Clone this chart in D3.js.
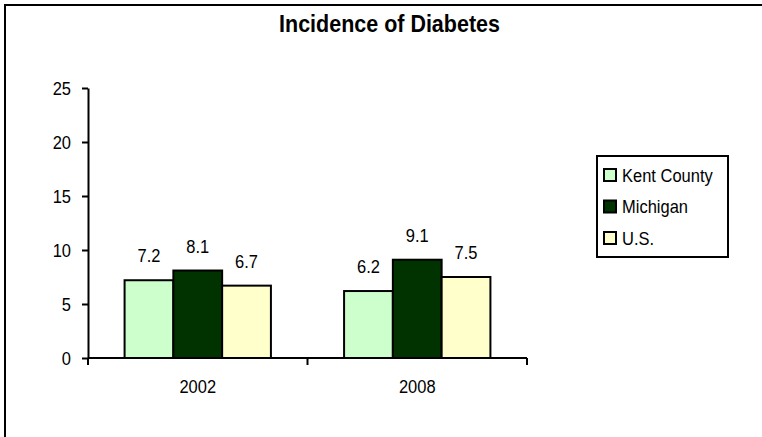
<!DOCTYPE html>
<html>
<head>
<meta charset="utf-8">
<script src="https://cdn.jsdelivr.net/npm/d3@7"></script>
<style>
  html, body { margin: 0; padding: 0; background: #fff; }
  svg { display: block; font-family: Arial, "Liberation Sans", sans-serif; }
</style>
</head>
<body>
<svg id="chart" width="762" height="437"></svg>
<script>
// Chart data
const title = "Incidence of Diabetes";
const years = ["2002", "2008"];
const seriesNames = ["Kent County", "Michigan", "U.S."];
const kentCounty = [7.2, 6.2];
const michigan = [8.1, 9.1];
const us = [6.7, 7.5];
const seriesColors = ["#CCFFCC", "#003300", "#FFFFCC"];
const yTicks = [0, 5, 10, 15, 20, 25];

const seriesValues = [kentCounty, michigan, us];

// Text is drawn slightly taller than wide
const STRETCH = 1.12;
const FONT = 16.5;
const place = (x, y) => `translate(${x},${y}) scale(1,${STRETCH})`;

const svg = d3.select("#chart");

// Outer chart frame (right and bottom edges fall outside the view)
svg.append("rect")
  .attr("x", 5).attr("y", 5)
  .attr("width", 900).attr("height", 600)
  .attr("fill", "#fff")
  .attr("stroke", "#000").attr("stroke-width", 2);

// Title
svg.append("text")
  .attr("transform", place(389.5, 31.5))
  .attr("text-anchor", "middle")
  .attr("font-size", 21.5).attr("font-weight", "bold")
  .text(title);

// Scales
const plot = { left: 88, right: 527, top: 88, bottom: 358 };
const y = d3.scaleLinear().domain([0, 25]).range([plot.bottom, plot.top]);
const x = d3.scaleBand().domain(years).range([plot.left, plot.right]).padding(0);
const bw = x.bandwidth();
const barW = bw / 4.5;               // three bars plus a 150% gap
const x1 = d3.scaleBand().domain(seriesNames)
  .range([barW * 0.75, barW * 0.75 + barW * 3]).padding(0);

// Bars
const groups = svg.append("g").selectAll("g")
  .data(years)
  .join("g")
  .attr("transform", d => `translate(${x(d)},0)`);

const cells = (d, i) => seriesNames.map((s, j) => ({ s, j, v: seriesValues[j][i] }));

groups.selectAll("rect")
  .data(cells)
  .join("rect")
  .attr("x", d => x1(d.s))
  .attr("y", d => y(d.v))
  .attr("width", x1.bandwidth())
  .attr("height", d => y(0) - y(d.v))
  .attr("fill", d => seriesColors[d.j])
  .attr("stroke", "#000").attr("stroke-width", 2);

// Value labels
groups.selectAll("text")
  .data(cells)
  .join("text")
  .attr("transform", d => place(x1(d.s) + x1.bandwidth() / 2, y(d.v) - 18))
  .attr("text-anchor", "middle")
  .attr("font-size", FONT)
  .text(d => d3.format(".1f")(d.v));

// Y axis
const yAxis = d3.axisLeft(y).tickValues(yTicks).tickSize(6).tickSizeOuter(0).tickPadding(11);
const yg = svg.append("g")
  .attr("transform", `translate(${plot.left},0)`)
  .call(yAxis);
yg.select(".domain").attr("stroke", "#000").attr("stroke-width", 2);
yg.selectAll(".tick line").attr("stroke", "#000").attr("stroke-width", 2);
yg.selectAll(".tick text")
  .attr("font-size", FONT).attr("font-family", null).attr("fill", "#000")
  .attr("x", null).attr("dy", null)
  .attr("transform", place(-17, 6));

// X axis: baseline with ticks at category boundaries
const xg = svg.append("g");
xg.append("line")
  .attr("x1", plot.left).attr("x2", plot.right)
  .attr("y1", y(0)).attr("y2", y(0))
  .attr("stroke", "#000").attr("stroke-width", 2);
const boundaries = years.map(d => x(d)).concat([x(years[years.length - 1]) + bw]);
xg.selectAll("line.tick")
  .data(boundaries)
  .join("line")
  .attr("class", "tick")
  .attr("x1", d => d).attr("x2", d => d)
  .attr("y1", y(0)).attr("y2", y(0) + 7)
  .attr("stroke", "#000").attr("stroke-width", 2);
xg.selectAll("text")
  .data(years)
  .join("text")
  .attr("transform", d => place(x(d) + bw / 2, y(0) + 35))
  .attr("text-anchor", "middle")
  .attr("font-size", FONT)
  .text(d => d);

// Legend
const legend = svg.append("g");
legend.append("rect")
  .attr("x", 597).attr("y", 156)
  .attr("width", 131).attr("height", 101)
  .attr("fill", "#fff")
  .attr("stroke", "#000").attr("stroke-width", 2);
const rowY = d3.scalePoint().domain(seriesNames).range([175, 238]);
const items = legend.selectAll("g.item")
  .data(seriesNames)
  .join("g")
  .attr("class", "item")
  .attr("transform", d => `translate(0,${rowY(d)})`);
items.append("rect")
  .attr("x", 604).attr("y", -6)
  .attr("width", 12).attr("height", 12)
  .attr("fill", (d, i) => seriesColors[i])
  .attr("stroke", "#000").attr("stroke-width", 2);
items.append("text")
  .attr("transform", place(622, 6.5))
  .attr("font-size", FONT)
  .text(d => d);
</script>
</body>
</html>
